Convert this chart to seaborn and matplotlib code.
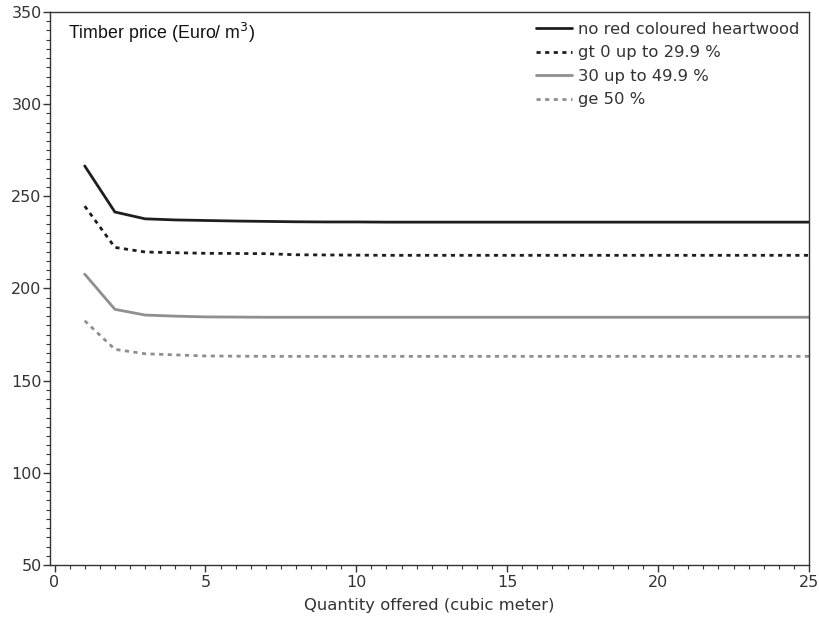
import numpy as np
import pandas as pd
import matplotlib
matplotlib.use("Agg")
import matplotlib.pyplot as plt
import seaborn as sns
from matplotlib.ticker import MultipleLocator

quantity = list(range(1, 26))
series_names = ["no red coloured heartwood", "gt 0 up to 29.9 %", "30 up to 49.9 %", "ge 50 %"]
no_red = [266.5, 241.5, 237.8, 237.2, 236.9, 236.6, 236.4, 236.2, 236.1, 236.1,
          236.0, 236.0, 236.0, 236.0, 236.0, 236.0, 236.0, 236.0, 236.0, 236.0,
          236.0, 236.0, 236.0, 236.0, 236.0]
gt0_299 = [244.7, 222.3, 219.8, 219.4, 219.1, 219.0, 218.9, 218.3, 218.2, 218.1,
           218.0, 218.0, 218.0, 218.0, 218.0, 218.0, 218.0, 218.0, 218.0, 218.0,
           218.0, 218.0, 218.0, 218.0, 218.0]
p30_499 = [207.8, 188.7, 185.6, 185.0, 184.6, 184.5, 184.4, 184.4, 184.4, 184.4,
           184.4, 184.4, 184.4, 184.4, 184.4, 184.4, 184.4, 184.4, 184.4, 184.4,
           184.4, 184.4, 184.4, 184.4, 184.4]
ge50 = [182.5, 167.0, 164.6, 164.0, 163.4, 163.3, 163.2, 163.2, 163.2, 163.2,
        163.2, 163.2, 163.2, 163.2, 163.2, 163.2, 163.2, 163.2, 163.2, 163.2,
        163.2, 163.2, 163.2, 163.2, 163.2]

frames = []
for name, vals in zip(series_names, [no_red, gt0_299, p30_499, ge50]):
    frames.append(pd.DataFrame({"x": quantity, "y": vals, "series": name}))
df = pd.concat(frames, ignore_index=True)

sns.set_theme(style="ticks")
plt.rcParams['font.family'] = ['DejaVu Sans']

dark = "#1e1e1e"
gray = "#8f8f8f"
palette = {series_names[0]: dark, series_names[1]: dark,
           series_names[2]: gray, series_names[3]: gray}
dashes = {series_names[0]: "", series_names[1]: (1.5, 1.6),
          series_names[2]: "", series_names[3]: (1.5, 1.6)}

fig = plt.figure(figsize=(8.19, 6.19), dpi=100)
ax = fig.add_axes([50/819, 1 - 565/619, (809 - 50)/819, (565 - 12)/619])

sns.lineplot(data=df, x="x", y="y", hue="series", style="series",
             palette=palette, dashes=dashes, hue_order=series_names,
             style_order=series_names, linewidth=2.0, ax=ax, legend=True)

ax.set_xlim(-0.15, 25)
ax.set_ylim(50, 350)
ax.xaxis.set_major_locator(MultipleLocator(5))
ax.xaxis.set_minor_locator(MultipleLocator(0.5))
ax.yaxis.set_major_locator(MultipleLocator(50))
ax.yaxis.set_minor_locator(MultipleLocator(5))
ax.tick_params(axis="both", which="major", length=5, width=1, color="#333333",
               labelsize=11.5, labelcolor="#333333", pad=2)
ax.tick_params(axis="y", which="major", pad=1)
ax.tick_params(axis="both", which="minor", length=3, width=0.8, color="#333333")
for s in ax.spines.values():
    s.set_color("#333333")
    s.set_linewidth(1.0)

ax.set_ylabel("")
ax.set_xlabel("Quantity offered (cubic meter)", fontsize=11.8, color="#333333", labelpad=6)
ax.text(0.024, 0.962, "Timber price (Euro/ m$^3$)", transform=ax.transAxes,
        fontsize=12.8, family="Liberation Sans", color="#111111", va="center", ha="left")

handles, labels = ax.get_legend_handles_labels()
leg = ax.legend(handles=handles, labels=labels, loc="upper right", frameon=False,
                fontsize=11.8, handlelength=2.15, handletextpad=0.37,
                labelspacing=0.52, borderaxespad=0.2, bbox_to_anchor=(1.0, 1.0))
for t in leg.get_texts():
    t.set_color("#333333")
for h in leg.get_lines():
    h.set_linewidth(2.0)

fig.savefig("out.png", dpi=100, facecolor="white")
